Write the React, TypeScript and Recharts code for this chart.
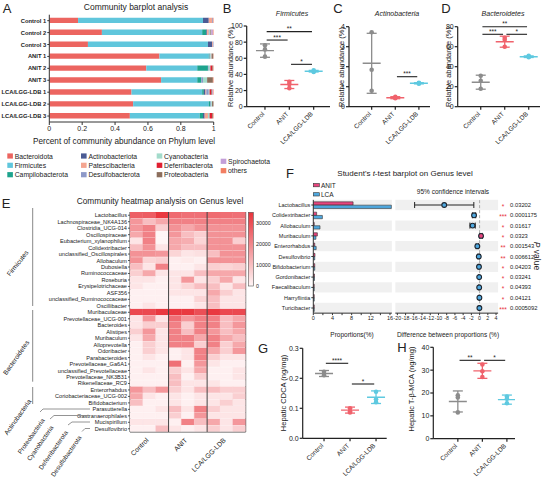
import React from "react";
import {
  BarChart,
  Bar,
  Cell,
  XAxis,
  YAxis,
  ScatterChart,
  Scatter,
  ErrorBar,
  ReferenceLine,
  ReferenceDot,
  ReferenceArea,
} from "recharts";

const FONT = "Arial, 'Liberation Sans', Helvetica, sans-serif";
const INK = "#222";

// ---------- A: phylum barplot ----------
const samples = [
  "Control 1", "Control 2", "Control 3",
  "ANIT 1", "ANIT 2", "ANIT 3",
  "LCA/LGG-LDB 1", "LCA/LGG-LDB 2", "LCA/LGG-LDB 3",
];
const phyla = [
  "Bacteroidota", "Firmicutes", "Campilobacterota", "Actinobacteriota",
  "Patescibacteria", "Desulfobacterota", "Cyanobacteria", "Deferribacterota",
  "Proteobacteria", "Spirochaetota", "others",
];
const phylumColors = [
  "#ec6560", "#60c6dc", "#1da38d", "#4b5b94", "#f4a590", "#8e99c8",
  "#a3dbcb", "#e01f30", "#8c6e5c", "#c39ed8", "#f27e62",
];
const bacteroidota = [0.175, 0.32, 0.235, 0.67, 0.59, 0.68, 0.5, 0.51, 0.49];
const firmicutes = [0.76, 0.61, 0.73, 0.3, 0.31, 0.22, 0.43, 0.46, 0.425];
const campilobacterota = [0, 0.025, 0, 0.005, 0.065, 0.025, 0.01, 0.01, 0.02];
const actinobacteriota = [0.035, 0.005, 0.025, 0, 0, 0, 0.01, 0, 0.01];
const patescibacteria = [0.02, 0.01, 0.005, 0, 0, 0, 0.005, 0, 0.02];
const desulfobacterota = [0.005, 0.005, 0.005, 0.005, 0.005, 0.01, 0.015, 0.005, 0];
const cyanobacteria = [0, 0.005, 0, 0.008, 0.01, 0.025, 0.005, 0.005, 0.01];
const deferribacterota = [0, 0, 0, 0.002, 0.012, 0, 0.01, 0, 0.015];
const proteobacteria = [0, 0.005, 0, 0.008, 0.005, 0.035, 0.005, 0.01, 0.005];
const spirochaetota = [0, 0.01, 0, 0, 0, 0, 0.005, 0, 0];
const otherPhyla = [0.005, 0.005, 0, 0.002, 0.003, 0.005, 0.005, 0, 0.005];
const phylumValues = [
  bacteroidota, firmicutes, campilobacterota, actinobacteriota, patescibacteria,
  desulfobacterota, cyanobacteria, deferribacterota, proteobacteria, spirochaetota, otherPhyla,
];
const barData = samples.map((name, i) => {
  const row: any = { name };
  phyla.forEach((p, j) => (row[p] = phylumValues[j][i]));
  return row;
});

// ---------- B,C,D,G,H: dot plots ----------
const groupNames = ["Control", "ANIT", "LCA/LGG-LDB"];
const groupColors = ["#8c8c8c", "#f0626c", "#5ec9e0"];

const firmPts = [[76, 71, 62], [31, 28, 23], [45, 44, 43]];
const firmMean = [69.5, 27.5, 44];
const firmSd = [8.3, 5, 1];
const firmSig = [
  { from: 0, to: 2, y: 93, label: "**" },
  { from: 0, to: 1, y: 82.6, label: "***" },
  { from: 1, to: 2, y: 52.5, label: "*" },
];

const actinoPts = [[3.72, 1.85, 0.8], [0.5, 0.45, 0.42], [1.2, 1.17, 1.15]];
const actinoMean = [2.17, 0.45, 1.17];
const actinoSd = [1.5, 0.05, 0.03];
const actinoSig = [{ from: 1, to: 2, y: 1.5, label: "***" }];

const bacteroPts = [[31, 26, 18], [69, 67, 60], [51, 50, 49.5]];
const bacteroMean = [24.5, 65, 50];
const bacteroSd = [7, 5.5, 0.8];
const bacteroSig = [
  { from: 0, to: 2, y: 80, label: "**" },
  { from: 0, to: 1, y: 72.4, label: "***" },
  { from: 1, to: 2, y: 72.4, label: "*" },
];

const cdcaPts = [[0.222, 0.215, 0.21], [0.1, 0.09, 0.086], [0.155, 0.13, 0.12]];
const cdcaMean = [0.216, 0.094, 0.137];
const cdcaSd = [0.01, 0.01, 0.021];
const cdcaSig = [
  { from: 0, to: 1, y: 0.25, label: "****" },
  { from: 1, to: 2, y: 0.181, label: "*" },
];

const tbmcaPts = [[19, 18, 11.5], [32.5, 29.5, 27], [18.5, 17.5, 15.5]];
const tbmcaMean = [16.3, 29.7, 17.1];
const tbmcaSd = [4.6, 3.3, 2];
const tbmcaSig = [
  { from: 0, to: 1, y: 34.3, label: "**" },
  { from: 1, to: 2, y: 34.3, label: "*" },
];

// ---------- E: genus heatmap ----------
const heatRows = [
  "Lactobacillus", "Lachnospiraceae_NK4A136", "Clostridia_UCG-014", "Oscillospiraceae",
  "Eubacterium_xylanophilum", "Colidextribacter", "unclassified_Oscillospirales", "Allobaculum",
  "Dubosiella", "Ruminococcaceae", "Roseburia", "Erysipelotrichaceae", "ASF356",
  "unclassified_Ruminococcaceae", "Oscillibacter", "Muribaculaceae", "Prevotellaceae_UCG-001",
  "Bacteroides", "Alistipes", "Muribaculum", "Alloprevotella", "Odoribacter", "Parabacteroides",
  "Prevotellaceae_Ga6A1", "unclassified_Prevotellaceae", "Prevotellaceae_NK3B31",
  "Rikenellaceae_RC9", "Enterorhabdus", "Coriobacteriaceae_UCG-002", "Bifidobacterium",
  "Parasutterella", "Gastranaerophilales", "Mucispirillum", "Desulfovibrio",
];
const heatValues = [
  [27000, 27500, 34000, 25000, 24000, 24000, 25000, 24500, 24000],
  [17000, 10000, 14000, 21000, 21000, 21000, 21000, 21000, 21000],
  [17000, 21000, 7000, 18000, 14000, 18000, 18000, 18000, 18000],
  [14000, 21000, 0, 17000, 10000, 7000, 18000, 18000, 18000],
  [3000, 21000, 0, 14000, 13000, 6000, 18000, 18000, 7000],
  [10000, 18000, 3000, 14000, 10000, 10000, 18000, 18000, 18000],
  [18000, 18000, 17000, 6000, 3000, 4000, 10000, 18000, 18000],
  [18000, 6000, 7000, 1000, 2000, 1000, 18000, 18000, 18000],
  [10000, 3000, 21000, 1000, 1000, 3000, 7000, 6000, 7000],
  [7000, 14000, 3000, 3000, 3000, 10000, 14000, 14000, 14000],
  [3000, 3000, 1000, 3000, 17000, 3000, 7000, 14000, 3000],
  [3000, 1000, 1000, 3000, 6000, 10000, 10000, 3000, 10000],
  [1000, 1000, 1000, 3000, 3000, 3000, 14000, 7000, 3000],
  [1000, 1000, 1000, 1000, 1000, 6000, 10000, 3000, 3000],
  [1000, 3000, 1000, 1000, 1000, 3000, 10000, 3000, 3000],
  [31000, 31000, 34000, 34000, 34000, 30000, 34000, 31000, 31000],
  [3000, 17000, 3000, 24000, 17000, 21000, 21000, 10000, 14000],
  [3000, 7000, 7000, 21000, 7000, 21000, 21000, 10000, 17000],
  [7000, 17000, 3000, 21000, 10000, 21000, 17000, 10000, 14000],
  [3000, 14000, 3000, 21000, 21000, 14000, 21000, 14000, 10000],
  [1000, 7000, 3000, 21000, 21000, 7000, 21000, 7000, 14000],
  [1000, 7000, 3000, 1000, 3000, 21000, 14000, 7000, 17000],
  [1000, 3000, 1000, 1000, 3000, 21000, 7000, 3000, 3000],
  [1000, 1000, 1000, 24000, 1000, 17000, 3000, 1000, 1000],
  [1000, 3000, 1000, 7000, 3000, 14000, 1000, 1000, 3000],
  [1000, 1000, 1000, 10000, 1000, 7000, 1000, 1000, 3000],
  [1000, 1000, 1000, 10000, 3000, 3000, 3000, 1000, 1000],
  [17000, 10000, 17000, 7000, 3000, 10000, 10000, 7000, 7000],
  [14000, 3000, 1000, 3000, 1000, 3000, 3000, 3000, 7000],
  [10000, 1000, 1000, 3000, 1000, 3000, 3000, 7000, 3000],
  [1000, 1000, 3000, 10000, 3000, 21000, 7000, 3000, 3000],
  [1000, 1000, 1000, 7000, 1000, 17000, 3000, 3000, 3000],
  [3000, 3000, 3000, 1000, 21000, 10000, 14000, 3000, 17000],
  [1000, 1000, 10000, 3000, 1000, 3000, 7000, 3000, 7000],
];
const heatSamples = ["C1", "C2", "C3", "A1", "A2", "A3", "L1", "L2", "L3"];
const HEAT_MAX = 35000;
const heatBarData = heatRows.map((name) => ({ name }));

// ---------- F: t-test ----------
const genera = [
  "Lactobacillus", "Colidextribacter", "Allobaculum", "Muribaculum", "Enterorhabdus",
  "Desulfovibrio", "Bifidobacterium", "Gordonibacter", "Faecalibaculum", "Harryflintia", "Turicibacter",
];
const propANIT = [8.3, 0.7, 0.2, 0.85, 0.3, 0.35, 0.3, 0.25, 0.2, 0.2, 0.2];
const propLCA = [16.3, 1.9, 1.4, 0.55, 0.6, 0.3, 0.3, 0.25, 0.2, 0.2, 0.2];
const diffProp = [-8.6, -1.35, -1.7, 0.35, -0.55, -0.2, -0.15, -0.1, -0.1, -0.05, -0.05];
const ciHalf = [7.2, 0.4, 0.65, 0.3, 0.3, 0.2, 0.2, 0.15, 0.15, 0.1, 0.1];
const pValues = [
  "0.03202", "0.0001175", "0.01617", "0.0323", "0.001543", "0.006612",
  "0.04203", "0.03241", "0.04393", "0.04121", "0.0005092",
];
const pStars = ["*", "***", "*", "*", "**", "**", "*", "*", "*", "*", "***"];
const ANIT_C = "#e8457e";
const LCA_C = "#4fa8df";

const tBarData = genera.map((g, i) => ({ name: g, anit: propANIT[i], lca: propLCA[i] }));
const ciData = genera.map((g, i) => ({ x: diffProp[i], y: i, ci: ciHalf[i] }));

// ---------- helpers ----------
const RotTick = ({ x, y, payload, labels, size = 6.5 }: any) => (
  <text
    x={x - 2}
    y={y + 1}
    transform={`rotate(-45, ${x - 2}, ${y + 1})`}
    textAnchor="end"
    dominantBaseline="central"
    fontSize={size}
    fill={INK}
  >
    {labels[payload.value]}
  </text>
);

const LeftTick = ({ x, y, payload, size = 6, weight = 400 }: any) => (
  <text x={x} y={y} textAnchor="end" dominantBaseline="central" fontSize={size} fontWeight={weight} fill={INK}>
    {payload.value}
  </text>
);

type Sig = { from: number; to: number; y: number; label: string };
type Box = { left: number; top: number; width: number; height: number; yw: number; mt: number; mr: number; xh: number };

function DotPanel({ box, yDomain, yTicks, xDomain, pts, mean, sd, sigs, fmt }: {
  box: Box; yDomain: number[]; yTicks: number[]; xDomain: number[];
  pts: number[][]; mean: number[]; sd: number[]; sigs: Sig[]; fmt?: (v: number) => string;
}) {
  const axisStyle = { stroke: INK, strokeWidth: 1.2 };
  return (
    <div style={{ position: "absolute", left: box.left, top: box.top }}>
      <ScatterChart width={box.width} height={box.height} margin={{ top: box.mt, right: box.mr, left: 0, bottom: 0 }}>
        <XAxis
          type="number" dataKey="x" domain={xDomain} ticks={[0, 1, 2]} interval={0}
          allowDataOverflow height={box.xh} tickSize={3}
          axisLine={axisStyle} tickLine={axisStyle}
          tick={(p: any) => <RotTick {...p} labels={groupNames} />}
        />
        <YAxis
          type="number" dataKey="y" domain={yDomain} ticks={yTicks} interval={0}
          allowDataOverflow width={box.yw} tickSize={3} tickMargin={1}
          axisLine={axisStyle} tickLine={axisStyle}
          tick={{ fontSize: 7, fill: INK }} tickFormatter={fmt}
        />
        {sigs.map((s, k) => (
          <ReferenceLine
            key={"l" + k}
            segment={[{ x: s.from + 0.07, y: s.y }, { x: s.to - 0.07, y: s.y }]}
            stroke={INK} strokeWidth={1.1} ifOverflow="visible"
          />
        ))}
        {sigs.map((s, k) => (
          <ReferenceDot
            key={"d" + k} x={(s.from + s.to) / 2} y={s.y} r={0} fill="none" stroke="none"
            ifOverflow="visible"
            label={{ value: s.label, position: "top", offset: 0.5, fontSize: 6.5, fill: INK }}
          />
        ))}
        {groupNames.map((g, i) => (
          <Scatter
            key={"m" + g}
            data={[{ x: i, y: mean[i], sd: sd[i] }]}
            fill={groupColors[i]}
            isAnimationActive={false}
            shape={(p: any) => (
              <line x1={p.cx - 9} x2={p.cx + 9} y1={p.cy} y2={p.cy} stroke={groupColors[i]} strokeWidth={1.4} />
            )}
          >
            <ErrorBar dataKey="sd" direction="y" width={5} stroke={groupColors[i]} strokeWidth={1.3} />
          </Scatter>
        ))}
        {groupNames.map((g, i) => (
          <Scatter
            key={"p" + g}
            data={pts[i].map((v) => ({ x: i, y: v }))}
            fill={groupColors[i]}
            isAnimationActive={false}
            shape={(p: any) => <circle cx={p.cx} cy={p.cy} r={2.3} fill={groupColors[i]} />}
          />
        ))}
      </ScatterChart>
    </div>
  );
}

function PhylumBar() {
  return (
    <div style={{ position: "absolute", left: 0, top: 0 }}>
      <BarChart
        width={220} height={140} data={barData} layout="vertical"
        margin={{ top: 14.7, right: 6.3, left: 0, bottom: 0 }} barSize={5.4}
      >
        <XAxis
          type="number" domain={[0, 1]} ticks={[0, 0.2, 0.4, 0.6, 0.8, 1]} height={18}
          tick={{ fontSize: 7, fill: INK }} tickSize={3} tickMargin={1} stroke="#333" allowDataOverflow
        />
        <YAxis
          type="category" dataKey="name" width={49.3} interval={0}
          tick={(p: any) => <LeftTick {...p} size={5.8} weight={700} />} tickSize={2} tickMargin={1} stroke="#333"
        />
        {phyla.map((p, j) => (
          <Bar key={p} dataKey={p} stackId="a" fill={phylumColors[j]} isAnimationActive={false} />
        ))}
      </BarChart>
    </div>
  );
}

function heatColor(v: number) {
  const t = Math.max(0, Math.min(1, v / HEAT_MAX));
  const a = [255, 246, 246];
  const b = [232, 51, 59];
  const c = a.map((x, i) => Math.round(x + (b[i] - x) * t));
  return `rgb(${c[0]},${c[1]},${c[2]})`;
}

function Heatmap() {
  const colLabels: any = { 1.5: "Control", 4.5: "ANIT", 7.5: "LCA/LGG-LDB" };
  return (
    <div style={{ position: "absolute", left: 0, top: 211.7 }}>
      <BarChart
        width={250} height={271.3} data={heatBarData} layout="vertical"
        margin={{ top: 0, right: 4.3, left: 0, bottom: 0 }} barCategoryGap={0}
      >
        <XAxis
          type="number" domain={[0, 9]} ticks={[1.5, 4.5, 7.5]} interval={0}
          allowDataOverflow height={51.3} axisLine={false} tickLine={false} tickSize={4}
          tick={(p: any) => <RotTick {...p} labels={colLabels} size={6.8} />}
        />
        <YAxis
          type="category" dataKey="name" width={130} interval={0}
          tick={(p: any) => <LeftTick {...p} size={5.6} />}
          axisLine={false} tickSize={2} tickMargin={1} tickLine={{ stroke: "#555" }}
        />
        {heatSamples.map((s, c) => (
          <Bar key={s} name={s} dataKey={() => 1} stackId="h" isAnimationActive={false}>
            {heatValues.map((row, r) => (
              <Cell key={r} fill={heatColor(row[c])} stroke={heatColor(row[c])} strokeWidth={0.3} />
            ))}
          </Bar>
        ))}
        <ReferenceLine x={3} stroke="#444" strokeWidth={1} />
        <ReferenceLine x={6} stroke="#444" strokeWidth={1} />
        <ReferenceArea x1={0} x2={9} fill="none" stroke="#444" strokeWidth={1} />
      </BarChart>
    </div>
  );
}

function TTestBars() {
  return (
    <div style={{ position: "absolute", left: 270, top: 190 }}>
      <BarChart
        width={130} height={150} data={tBarData} layout="vertical"
        margin={{ top: 9.85, right: 8.1, left: 0, bottom: 0 }} barSize={3.3} barGap={0}
      >
        {genera.map((g, i) =>
          i % 2 === 0 ? (
            <ReferenceArea key={g} y1={g} y2={g} x1={0} x2={16.4} fill="#000" fillOpacity={0.06} stroke="none" />
          ) : null
        )}
        <XAxis
          type="number" domain={[0, 16.4]} ticks={[0, 2, 4, 6, 8, 10, 12, 14, 16]} interval={0}
          allowDataOverflow height={26.85} tickSize={2} tickMargin={1} stroke="#333"
          tick={{ fontSize: 5.5, fill: INK }} tickFormatter={(v: number) => (v % 4 === 0 ? String(v) : "")}
        />
        <YAxis
          type="category" dataKey="name" width={43.3} interval={0}
          tick={(p: any) => <LeftTick {...p} size={5.5} />} tickSize={2} tickMargin={1} stroke="#333"
        />
        <Bar dataKey="anit" fill={ANIT_C} stroke="#333" strokeWidth={0.6} isAnimationActive={false} />
        <Bar dataKey="lca" fill={LCA_C} stroke="#333" strokeWidth={0.6} isAnimationActive={false} />
      </BarChart>
    </div>
  );
}

const PTick = ({ x, y, payload }: any) => {
  const i = payload.value;
  if (pValues[i] === undefined) return null;
  return (
    <g>
      <text x={x + 5} y={y + 1.5} textAnchor="middle" dominantBaseline="central" fontSize={6.5} fill="#e8303a">
        {pStars[i]}
      </text>
      <text x={x + 12} y={y} textAnchor="start" dominantBaseline="central" fontSize={5.8} fill={INK}>
        {pValues[i]}
      </text>
    </g>
  );
};

function TTestCI() {
  return (
    <div style={{ position: "absolute", left: 390, top: 190 }}>
      <ScatterChart width={156} height={150} margin={{ top: 9.85, right: 0, left: 5.3, bottom: 0 }}>
        {genera.map((g, i) =>
          i % 2 === 0 ? (
            <ReferenceArea key={g} y1={i - 0.5} y2={i + 0.5} x1={-20.5} x2={4.5} fill="#000" fillOpacity={0.06} stroke="none" />
          ) : null
        )}
        <XAxis
          type="number" dataKey="x" domain={[-20.5, 4.5]}
          ticks={[-20, -18, -16, -14, -12, -10, -8, -6, -4, -2, 0, 2, 4]} interval={0}
          allowDataOverflow height={26.85} tickSize={2} tickMargin={1} stroke="#333"
          tick={{ fontSize: 5.3, fill: INK }}
        />
        <YAxis
          type="number" dataKey="y" orientation="right" domain={[-0.5, 10.5]} reversed allowDataOverflow
          ticks={genera.map((_, i) => i)} interval={0} width={47.9}
          axisLine={false} tickLine={false} tickSize={0} tickMargin={0} tick={(p: any) => <PTick {...p} />}
        />
        <ReferenceLine x={0} stroke="#999" strokeWidth={0.8} strokeDasharray="3 2" />
        <Scatter
          data={ciData}
          isAnimationActive={false}
          shape={(p: any) => (
            <circle cx={p.cx} cy={p.cy} r={2.4} fill={p.payload.x > 0 ? ANIT_C : LCA_C} stroke="#1c2530" strokeWidth={1.1} />
          )}
        >
          <ErrorBar dataKey="ci" direction="x" width={3} stroke="#222" strokeWidth={1} />
        </Scatter>
      </ScatterChart>
    </div>
  );
}

const T = ({ x, y, s = 7, children, anchor = "middle", rot = 0, style = {} }: any) => (
  <text
    x={x} y={y} fontSize={s} textAnchor={anchor} dominantBaseline="central" fill={INK}
    transform={rot ? `rotate(${rot}, ${x}, ${y})` : undefined} style={style}
  >
    {children}
  </text>
);

function Overlay() {
  const legendCols = [[0, 1, 2], [3, 4, 5], [6, 7, 8], [9, 10]];
  const legendX = [7.3, 81, 156.7, 220.7];
  const legendY = [[156, 165.3, 174.7], [156, 165.3, 174.7], [156, 165.3, 174.7], [161.3, 170.7]];
  return (
    <svg width={546} height={483} style={{ position: "absolute", left: 0, top: 0, pointerEvents: "none" }}>
      <defs>
        <linearGradient id="cbar" x1="0" y1="1" x2="0" y2="0">
          <stop offset="0" stopColor="#fff6f6" />
          <stop offset="1" stopColor="#e8333b" />
        </linearGradient>
      </defs>
      {/* panel letters */}
      <T x={7} y={8} s={13}>A</T>
      <T x={227} y={8} s={13}>B</T>
      <T x={338} y={8} s={13}>C</T>
      <T x={446} y={8} s={13}>D</T>
      <T x={6} y={203} s={13}>E</T>
      <T x={290} y={173} s={13}>F</T>
      <T x={263} y={348} s={13}>G</T>
      <T x={402} y={347} s={13}>H</T>

      {/* A */}
      <T x={136} y={7} s={8.5}>Community barplot analysis</T>
      <T x={124} y={141} s={8.2}>Percent of community abundance on Phylum level</T>
      {legendCols.map((col, ci) =>
        col.map((pi, ri) => (
          <g key={pi}>
            <rect x={legendX[ci]} y={legendY[ci][ri] - 2.6} width={5.6} height={5.2} fill={phylumColors[pi]} />
            <T x={legendX[ci] + 7.4} y={legendY[ci][ri]} s={6.8} anchor="start">{phyla[pi]}</T>
          </g>
        ))
      )}

      {/* B C D */}
      <T x={292} y={13} s={7} style={{ fontStyle: "italic" }}>Firmicutes</T>
      <T x={397} y={13} s={7} style={{ fontStyle: "italic" }}>Actinobacteria</T>
      <T x={503} y={13} s={7} style={{ fontStyle: "italic" }}>Bacteroidetes</T>
      <T x={230} y={67} s={7.5} rot={-90}>Relative abundance (%)</T>
      <T x={341.7} y={67} s={7.5} rot={-90}>Relative abundance (%)</T>
      <T x={448.3} y={67} s={7.5} rot={-90}>Relative abundance (%)</T>

      {/* E */}
      <T x={160} y={200.7} s={8.3}>Community heatmap analysis on Genus level</T>
      <rect x={248.3} y={212.3} width={5} height={73.7} fill="url(#cbar)" stroke="#555" strokeWidth={0.6} />
      <T x={256} y={222.8} s={5.3} anchor="start">30000</T>
      <T x={256} y={243.9} s={5.3} anchor="start">20000</T>
      <T x={256} y={264.9} s={5.3} anchor="start">10000</T>
      <T x={256} y={286} s={5.3} anchor="start">0</T>
      <line x1={32.7} x2={32.7} y1={208} y2={306} stroke="#888" strokeWidth={1} />
      <line x1={32.7} x2={32.7} y1={310} y2={381.7} stroke="#888" strokeWidth={1} />
      <line x1={32.7} x2={32.7} y1={387} y2={404} stroke="#888" strokeWidth={1} />
      <T x={17.5} y={263} s={6.6} rot={-52}>Firmicutes</T>
      <T x={16} y={357.5} s={6.6} rot={-55}>Bacteroidetes</T>
      <T x={17.5} y={417} s={6.6} rot={-55}>Actinobacteria</T>
      <polyline points="40,412 43,409 90,409" fill="none" stroke="#888" strokeWidth={0.9} />
      <polyline points="50,419 54,415.5 90,415.5" fill="none" stroke="#888" strokeWidth={0.9} />
      <polyline points="68,425 72,422 90,422" fill="none" stroke="#888" strokeWidth={0.9} />
      <polyline points="82,431.5 85,428.5 90,428.5" fill="none" stroke="#888" strokeWidth={0.9} />
      <T x={31} y={436} s={6.4} rot={-55}>Proteobacteria</T>
      <T x={40} y={443} s={6.4} rot={-55}>Cyanobacteria</T>
      <T x={53} y={450} s={6.4} rot={-55}>Deferribacterota</T>
      <T x={66} y={456} s={6.4} rot={-55}>Desulfobacterota</T>

      {/* F */}
      <text x={405} y={173} fontSize={8} textAnchor="middle" dominantBaseline="central" fill={INK}>
        Student's <tspan fontStyle="italic">t</tspan>-test barplot on Genus level
      </text>
      <rect x={313.3} y={183.5} width={6} height={3.3} fill={ANIT_C} stroke="#333" strokeWidth={0.6} />
      <T x={321} y={185} s={6.5} anchor="start">ANIT</T>
      <rect x={313.3} y={192.7} width={6} height={3.3} fill={LCA_C} stroke="#333" strokeWidth={0.6} />
      <T x={321} y={194.3} s={6.5} anchor="start">LCA</T>
      <T x={453} y={191} s={6.5}>95% confidence intervals</T>
      <T x={352} y={334} s={6.5}>Proportions(%)</T>
      <T x={448} y={334} s={6.5}>Difference between proportions (%)</T>
      <text x={537} y={256} fontSize={8.5} textAnchor="middle" dominantBaseline="central" fill={INK} transform="rotate(90, 537, 256)">
        <tspan fontStyle="italic">P</tspan> value
      </text>

      {/* G H */}
      <T x={283} y={393} s={7.5} rot={-90}>Hepatic CDCA (ng/mg)</T>
      <T x={411} y={389} s={7.5} rot={-90}>Hepatic T-β-MCA (ng/mg)</T>
    </svg>
  );
}

export default function App() {
  return (
    <div
      style={{
        position: "absolute", left: 0, top: 0, width: 546, height: 483,
        background: "#fff", fontFamily: FONT, overflow: "hidden",
      }}
    >
      <PhylumBar />
      <DotPanel
        box={{ left: 220, top: 0, width: 115, height: 150, yw: 26.7, mt: 26, mr: 5, xh: 43.3 }}
        yDomain={[0, 100]} yTicks={[0, 20, 40, 60, 80, 100]} xDomain={[-0.75, 2.67]}
        pts={firmPts} mean={firmMean} sd={firmSd} sigs={firmSig}
      />
      <DotPanel
        box={{ left: 330, top: 0, width: 100, height: 150, yw: 19, mt: 26.7, mr: 0, xh: 43.3 }}
        yDomain={[0, 4]} yTicks={[0, 1, 2, 3, 4]} xDomain={[-0.96, 2.47]}
        pts={actinoPts} mean={actinoMean} sd={actinoSd} sigs={actinoSig}
      />
      <DotPanel
        box={{ left: 435, top: 0, width: 111, height: 150, yw: 22.7, mt: 26.7, mr: 6, xh: 43.3 }}
        yDomain={[0, 80]} yTicks={[0, 20, 40, 60, 80]} xDomain={[-0.96, 2.47]}
        pts={bacteroPts} mean={bacteroMean} sd={bacteroSd} sigs={bacteroSig}
      />
      <Heatmap />
      <TTestBars />
      <TTestCI />
      <DotPanel
        box={{ left: 285, top: 330, width: 105, height: 153, yw: 17.7, mt: 18.3, mr: 3.3, xh: 44.7 }}
        yDomain={[0, 0.3]} yTicks={[0, 0.1, 0.2, 0.3]} xDomain={[-0.82, 2.41]}
        pts={cdcaPts} mean={cdcaMean} sd={cdcaSd} sigs={cdcaSig} fmt={(v: number) => v.toFixed(1)}
      />
      <DotPanel
        box={{ left: 415, top: 330, width: 110, height: 153, yw: 18.3, mt: 17.3, mr: 10, xh: 44.3 }}
        yDomain={[0, 40]} yTicks={[0, 10, 20, 30, 40]} xDomain={[-1, 2.33]}
        pts={tbmcaPts} mean={tbmcaMean} sd={tbmcaSd} sigs={tbmcaSig}
      />
      <Overlay />
    </div>
  );
}
